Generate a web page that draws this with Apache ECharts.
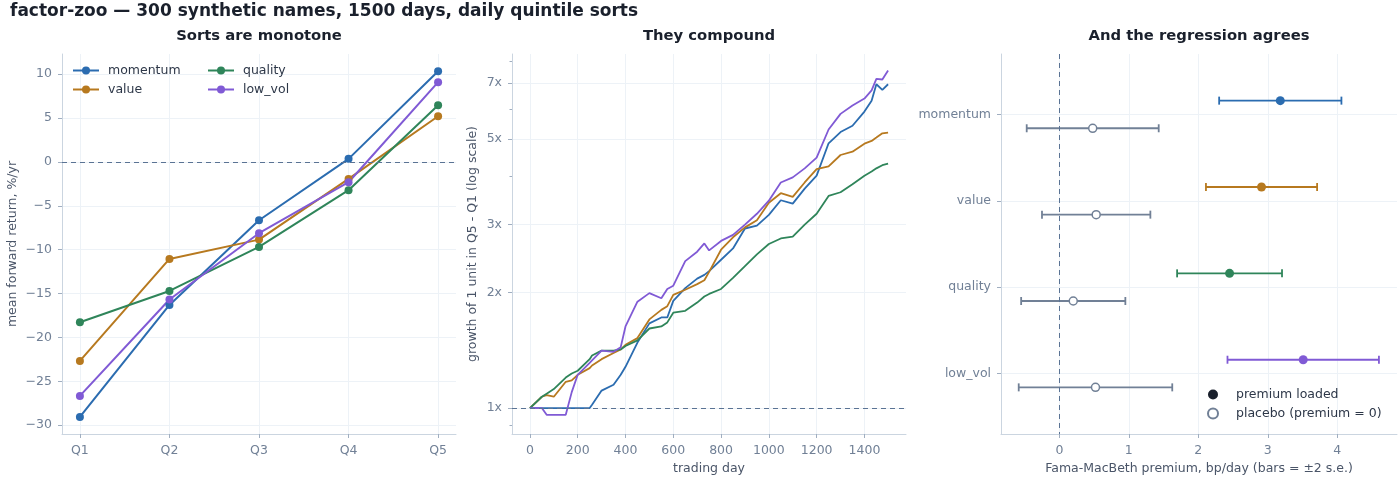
<!DOCTYPE html>
<html>
<head>
<meta charset="utf-8">
<title>factor-zoo</title>
<script src="https://cdn.jsdelivr.net/npm/echarts@6/dist/echarts.min.js"></script>
<style>
  html, body { margin: 0; padding: 0; background: #fff; }
  #chart { width: 1400px; height: 480px; }
</style>
</head>
<body>
<div id="chart"></div>
<script>
// ---- data ----
var quintiles = ["Q1", "Q2", "Q3", "Q4", "Q5"];
var factorNames = ["momentum", "value", "quality", "low_vol"];
var factorColors = ["#2b6cb0", "#b7791f", "#2f855a", "#805ad5"];

// mean forward return by quintile, %/yr
var sortMomentum = [-29.05, -16.3, -6.64, 0.35, 10.34];
var sortValue = [-22.67, -11.05, -8.85, -1.93, 5.21];
var sortQuality = [-18.27, -14.7, -9.68, -3.22, 6.47];
var sortLowVol = [-26.66, -15.68, -8.12, -2.31, 9.09];

// growth of 1 unit, Q5 - Q1
var growthDays = [0, 50, 70, 100, 150, 175, 200, 250, 260, 300, 350, 380, 400, 450, 500,
  550, 575, 600, 650, 700, 730, 750, 800, 850, 900, 950, 1000, 1050, 1100, 1150, 1200,
  1250, 1300, 1350, 1400, 1430, 1450, 1475, 1499];
var growthMomentum = [1, 1, 1, 1, 1, 1, 1, 1, 1.02, 1.11, 1.15, 1.22, 1.28, 1.48, 1.66,
  1.72, 1.72, 1.90, 2.05, 2.17, 2.22, 2.27, 2.43, 2.60, 2.93, 2.98, 3.18, 3.47, 3.40, 3.72, 4.02,
  4.88, 5.22, 5.42, 5.90, 6.30, 6.95, 6.72, 6.95];
var growthValue = [1, 1.07, 1.08, 1.07, 1.17, 1.18, 1.22, 1.27, 1.29, 1.34, 1.39, 1.42, 1.46, 1.52, 1.70,
  1.80, 1.84, 1.97, 2.03, 2.10, 2.15, 2.26, 2.58, 2.78, 2.95, 3.08, 3.42, 3.62, 3.54, 3.86, 4.18,
  4.25, 4.55, 4.64, 4.87, 4.95, 5.05, 5.18, 5.20];
var growthQuality = [1, 1.07, 1.09, 1.12, 1.20, 1.23, 1.25, 1.34, 1.37, 1.41, 1.41, 1.42, 1.45, 1.50, 1.61,
  1.63, 1.67, 1.77, 1.79, 1.88, 1.95, 1.98, 2.04, 2.18, 2.34, 2.51, 2.67, 2.76, 2.79, 3.00, 3.20,
  3.56, 3.64, 3.82, 4.02, 4.12, 4.20, 4.28, 4.32];
var growthLowVol = [1, 1.0, 0.96, 0.96, 0.96, 1.10, 1.22, 1.31, 1.33, 1.41, 1.40, 1.44, 1.63, 1.89, 1.99,
  1.93, 2.04, 2.08, 2.41, 2.55, 2.68, 2.57, 2.72, 2.82, 3.00, 3.20, 3.46, 3.86, 3.98, 4.20, 4.48,
  5.30, 5.82, 6.12, 6.38, 6.70, 7.18, 7.15, 7.55];

// Fama-MacBeth premium, bp/day, and 2 s.e. half-widths
var loadedPremium = [3.18, 2.91, 2.45, 3.51];
var loadedErr = [0.88, 0.80, 0.755, 1.09];
var placeboPremium = [0.48, 0.53, 0.20, 0.52];
var placeboErr = [0.95, 0.78, 0.75, 1.105];

// tick values
var sortTicksY = [-30, -25, -20, -15, -10, -5, 0, 5, 10];
var growthTicksX = [0, 200, 400, 600, 800, 1000, 1200, 1400];
var growthTicksY = [1, 2, 3, 5, 7];
var growthMinorY = [0.9, 4, 6, 8];
var premiumTicksX = [0, 1, 2, 3, 4];

// ---- styling ----
var FONT = "DejaVu Sans";
var INK = "#1a202c";
var TICK = "#718096";
var LABEL = "#4a5568";
var SPINE = "#cbd5e0";
var GRID = "#edf2f7";
var PLACEBO = "#718096";
var ROW_OFFSET = 0.16;

function minus(v) {
  return String(v).replace("-", "\u2212");
}

function axisBase(extra) {
  var base = {
    axisLine: { show: true, onZero: false, lineStyle: { color: SPINE, width: 1 } },
    axisTick: { show: true, length: 4, lineStyle: { color: "#a0aec0" } },
    axisLabel: { color: TICK, fontFamily: FONT, fontSize: 12.5, margin: 10 },
    splitLine: { show: true, lineStyle: { color: GRID, width: 1 } },
    nameTextStyle: { color: LABEL, fontFamily: FONT, fontSize: 12.5 },
    nameLocation: "middle"
  };
  Object.keys(extra).forEach(function (k) {
    if (base[k] && typeof extra[k] === "object" && !Array.isArray(extra[k])) {
      base[k] = Object.assign({}, base[k], extra[k]);
    } else {
      base[k] = extra[k];
    }
  });
  return base;
}

var zeroLine = function (axisKey, value) {
  var d = {};
  d[axisKey] = value;
  return {
    silent: true,
    symbol: "none",
    label: { show: false },
    lineStyle: { color: "#5a7394", type: [5, 4], width: 1 },
    data: [d]
  };
};

function pairs(xs, ys) {
  return xs.map(function (x, i) { return [x, ys[i]]; });
}

// error bar: line with caps, drawn through the axis scales
function renderErrorBar(params, api) {
  var y = api.value(2);
  var a = api.coord([api.value(0), y]);
  var b = api.coord([api.value(1), y]);
  var cap = 4;
  var style = { stroke: api.visual("color"), lineWidth: 1.8 };
  return {
    type: "group",
    children: [
      { type: "line", shape: { x1: a[0], y1: a[1], x2: b[0], y2: b[1] }, style: style },
      { type: "line", shape: { x1: a[0], y1: a[1] - cap, x2: a[0], y2: a[1] + cap }, style: style },
      { type: "line", shape: { x1: b[0], y1: b[1] - cap, x2: b[0], y2: b[1] + cap }, style: style }
    ]
  };
}

var sortSeries = [sortMomentum, sortValue, sortQuality, sortLowVol];
var growthSeries = [growthMomentum, growthValue, growthQuality, growthLowVol];

var series = [];

factorNames.forEach(function (name, i) {
  var s = {
    name: name,
    type: "line",
    xAxisIndex: 0,
    yAxisIndex: 0,
    data: pairs([0, 1, 2, 3, 4], sortSeries[i]),
    symbol: "circle",
    symbolSize: 8,
    lineStyle: { width: 2, color: factorColors[i] },
    itemStyle: { color: factorColors[i] },
    z: 3
  };
  if (i === 0) s.markLine = zeroLine("yAxis", 0);
  series.push(s);
});

factorNames.forEach(function (name, i) {
  var s = {
    name: name + " growth",
    type: "line",
    xAxisIndex: 1,
    yAxisIndex: 1,
    data: pairs(growthDays, growthSeries[i]),
    showSymbol: false,
    symbol: "none",
    lineStyle: { width: 1.8, color: factorColors[i] },
    itemStyle: { color: factorColors[i] },
    z: 3
  };
  if (i === 0) s.markLine = zeroLine("yAxis", 1);
  series.push(s);
});

series.push({
  name: "loaded bars",
  type: "custom",
  xAxisIndex: 2,
  yAxisIndex: 3,
  renderItem: renderErrorBar,
  encode: { x: [0, 1], y: 2 },
  data: factorNames.map(function (n, i) {
    return {
      value: [loadedPremium[i] - loadedErr[i], loadedPremium[i] + loadedErr[i], i - ROW_OFFSET],
      itemStyle: { color: factorColors[i] }
    };
  }),
  markLine: zeroLine("xAxis", 0),
  z: 2
});

series.push({
  name: "placebo bars",
  type: "custom",
  xAxisIndex: 2,
  yAxisIndex: 3,
  renderItem: renderErrorBar,
  encode: { x: [0, 1], y: 2 },
  itemStyle: { color: PLACEBO },
  data: factorNames.map(function (n, i) {
    return [placeboPremium[i] - placeboErr[i], placeboPremium[i] + placeboErr[i], i + ROW_OFFSET];
  }),
  z: 2
});

series.push({
  name: "premium loaded",
  type: "scatter",
  xAxisIndex: 2,
  yAxisIndex: 3,
  symbolSize: 9,
  itemStyle: { color: INK, opacity: 1 },
  data: factorNames.map(function (n, i) {
    return { value: [loadedPremium[i], i - ROW_OFFSET], itemStyle: { color: factorColors[i] } };
  }),
  z: 4
});

series.push({
  name: "placebo (premium = 0)",
  type: "scatter",
  xAxisIndex: 2,
  yAxisIndex: 3,
  symbolSize: 8,
  itemStyle: { color: "#ffffff", borderColor: PLACEBO, borderWidth: 1.5, opacity: 1 },
  data: factorNames.map(function (n, i) {
    return [placeboPremium[i], i + ROW_OFFSET];
  }),
  z: 4
});

var legendText = { color: "#2d3748", fontFamily: FONT, fontSize: 12.5, padding: [0, 0, 0, 4] };
var titleStyle = { fontFamily: FONT, fontSize: 14.8, fontWeight: "bold", color: INK };

var option = {
  animation: false,
  backgroundColor: "#ffffff",
  textStyle: { fontFamily: FONT },
  title: [
    {
      text: "factor-zoo \u2014 300 synthetic names, 1500 days, daily quintile sorts",
      left: 10, top: 3, padding: 0,
      textStyle: { fontFamily: FONT, fontSize: 17, fontWeight: "bold", color: INK }
    },
    { text: "Sorts are monotone", left: 259, top: 29, padding: 0, textAlign: "center", textStyle: titleStyle },
    { text: "They compound", left: 709, top: 29, padding: 0, textAlign: "center", textStyle: titleStyle },
    { text: "And the regression agrees", left: 1199, top: 29, padding: 0, textAlign: "center", textStyle: titleStyle }
  ],
  legend: [
    {
      data: ["momentum", "value"], orient: "vertical", left: 72, top: 64, padding: 0,
      itemWidth: 26, itemHeight: 10, itemGap: 6, textStyle: legendText
    },
    {
      data: ["quality", "low_vol"], orient: "vertical", left: 207, top: 64, padding: 0,
      itemWidth: 26, itemHeight: 10, itemGap: 6, textStyle: legendText
    },
    {
      data: [
        { name: "premium loaded", icon: "circle" },
        { name: "placebo (premium = 0)", icon: "circle" }
      ],
      orient: "vertical", left: 1207, top: 388, padding: 0,
      itemWidth: 10, itemHeight: 10, itemGap: 6,
      textStyle: Object.assign({}, legendText, { padding: [0, 0, 0, 13] })
    }
  ],
  grid: [
    { left: 62, top: 54, width: 394, height: 380 },
    { left: 512, top: 54, width: 394, height: 380 },
    { left: 1001, top: 54, width: 396, height: 380 }
  ],
  xAxis: [
    axisBase({
      type: "value", gridIndex: 0, min: -0.2, max: 4.2,
      axisTick: { customValues: [0, 1, 2, 3, 4] },
      axisLabel: { customValues: [0, 1, 2, 3, 4], formatter: function (v) { return quintiles[Math.round(v)]; } }
    }),
    axisBase({
      type: "value", gridIndex: 1, min: -75, max: 1574,
      name: "trading day", nameGap: 27,
      axisTick: { customValues: growthTicksX },
      axisLabel: { customValues: growthTicksX, formatter: function (v) { return String(v); } }
    }),
    axisBase({
      type: "value", gridIndex: 2, min: -0.84, max: 4.86,
      name: "Fama-MacBeth premium, bp/day (bars = \u00b12 s.e.)", nameGap: 27,
      axisTick: { customValues: premiumTicksX },
      axisLabel: { customValues: premiumTicksX, formatter: function (v) { return String(v); } }
    })
  ],
  yAxis: [
    axisBase({
      type: "value", gridIndex: 0, min: -31, max: 12.3,
      name: "mean forward return, %/yr", nameGap: 43,
      axisTick: { customValues: sortTicksY },
      axisLabel: { customValues: sortTicksY, formatter: minus }
    }),
    axisBase({
      type: "log", gridIndex: 1, min: 0.856, max: 8.33, logBase: 10,
      name: "growth of 1 unit in Q5 - Q1 (log scale)", nameGap: 33,
      axisTick: { customValues: growthTicksY },
      axisLabel: { customValues: growthTicksY, formatter: function (v) { return v + "x"; } }
    }),
    {
      type: "log", gridIndex: 1, min: 0.856, max: 8.33, logBase: 10, position: "left",
      axisLine: { show: false, onZero: false },
      axisLabel: { show: false },
      splitLine: { show: false },
      axisTick: { show: true, length: 2.5, customValues: growthMinorY, lineStyle: { color: "#a0aec0" } }
    },
    axisBase({
      type: "value", gridIndex: 2, min: -0.7, max: 3.7, inverse: true,
      axisTick: { customValues: [0, 1, 2, 3] },
      axisLabel: {
        customValues: [0, 1, 2, 3],
        formatter: function (v) { return factorNames[Math.round(v)]; }
      }
    })
  ],
  series: series
};

var chart = echarts.init(document.getElementById("chart"), null, { renderer: "canvas" });
chart.setOption(option);
</script>
</body>
</html>
